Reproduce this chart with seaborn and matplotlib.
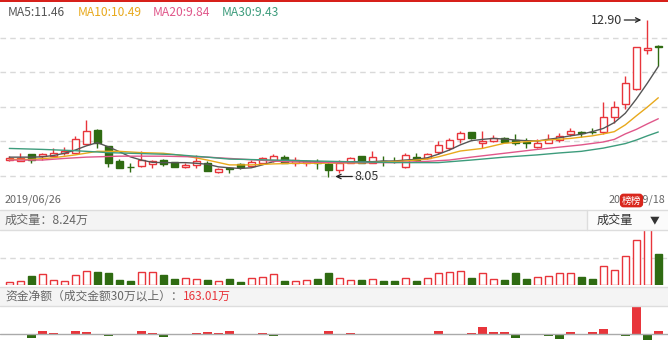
import matplotlib
matplotlib.use('Agg')
import matplotlib.pyplot as plt
import numpy as np
import pandas as pd
import seaborn as sns
from matplotlib.patches import Rectangle

# daily prices, 2019/06/26 .. 2019/09/18
open_ = [8.56, 8.54, 8.75, 8.69, 8.69, 8.79, 8.79, 9.05, 9.49, 8.99,
         8.53, 8.36, 8.38, 8.44, 8.56, 8.49, 8.34, 8.40, 8.46, 8.20,
         8.30, 8.43, 8.38, 8.46, 8.56, 8.65, 8.46, 8.46, 8.51, 8.43,
         8.25, 8.46, 8.69, 8.48, 8.54, 8.54, 8.35, 8.65, 8.61, 8.80,
         8.92, 9.20, 9.42, 9.08, 9.16, 9.23, 9.18, 9.12, 8.97, 9.10,
         9.18, 9.36, 9.43, 9.44, 9.42, 9.88, 10.29, 10.76, 11.97, 12.09]
close = [8.63, 8.63, 8.56, 8.74, 8.79, 8.84, 9.20, 9.45, 9.08, 8.46,
         8.32, 8.34, 8.56, 8.54, 8.43, 8.35, 8.41, 8.54, 8.23, 8.27,
         8.27, 8.35, 8.50, 8.61, 8.69, 8.48, 8.56, 8.53, 8.48, 8.25,
         8.48, 8.61, 8.48, 8.65, 8.52, 8.52, 8.71, 8.56, 8.74, 9.03,
         9.18, 9.41, 9.25, 9.15, 9.23, 9.13, 9.10, 9.10, 9.08, 9.21,
         9.31, 9.46, 9.41, 9.42, 9.88, 10.19, 10.96, 12.05, 12.02, 12.05]
high = [8.67, 8.77, 8.76, 8.77, 8.94, 8.96, 9.31, 9.80, 9.52, 8.99,
        8.60, 8.48, 8.84, 8.56, 8.60, 8.50, 8.46, 8.72, 8.54, 8.32,
        8.35, 8.46, 8.56, 8.66, 8.74, 8.72, 8.65, 8.55, 8.58, 8.50,
        8.56, 8.65, 8.69, 8.84, 8.69, 8.66, 8.79, 8.79, 8.79, 9.15,
        9.23, 9.46, 9.42, 9.46, 9.34, 9.27, 9.37, 9.23, 9.20, 9.36,
        9.39, 9.56, 9.47, 9.54, 10.37, 10.40, 11.16, 12.05, 12.90, 12.11]
low = [8.53, 8.53, 8.48, 8.56, 8.68, 8.72, 8.78, 9.05, 8.92, 8.35,
       8.32, 8.18, 8.35, 8.32, 8.38, 8.34, 8.30, 8.32, 8.22, 8.17,
       8.17, 8.27, 8.35, 8.43, 8.51, 8.46, 8.38, 8.38, 8.28, 8.05,
       8.15, 8.46, 8.46, 8.46, 8.38, 8.48, 8.30, 8.51, 8.58, 8.75,
       8.87, 9.10, 9.20, 8.92, 9.13, 9.12, 9.03, 8.94, 8.92, 9.08,
       9.13, 9.31, 9.27, 9.36, 9.36, 9.72, 10.13, 10.73, 11.84, 11.47]

# volume (万)
volume = [0.72, 0.98, 2.39, 2.92, 1.33, 0.98, 2.58, 3.64, 3.46, 3.19,
          1.33, 1.06, 3.46, 3.46, 2.66, 1.60, 1.78, 1.60, 1.33, 1.06,
          1.60, 0.80, 1.78, 2.05, 2.85, 1.06, 0.98, 1.25, 1.60, 3.19,
          1.78, 1.25, 1.33, 1.52, 1.06, 1.06, 1.78, 1.06, 1.78, 3.11,
          3.38, 3.64, 1.86, 3.11, 1.52, 1.33, 3.19, 1.60, 2.05, 2.31,
          3.11, 3.11, 2.13, 1.60, 4.97, 3.99, 7.63, 11.89, 18.60, 8.24]

# net capital flow (万)
flow = [0, 0, -280, 150, 30, -85, 150, 85, -30, -150,
        -30, -30, 150, 20, -215, -85, -30, 20, 85, 20,
        150, 0, -85, 20, -150, 0, -85, -30, -85, 150,
        -130, 20, -130, 0, -30, -30, -65, -30, -130, 163,
        -85, -85, 20, 440, 90, 90, -280, -65, -30, -190,
        -350, 90, -30, 90, 300, -90, -163, 1820, -455, 163.01]

# moving averages read at bar positions
ma5_x = list(range(60))
ma5 = [8.65, 8.65, 8.65, 8.66, 8.70, 8.77, 8.87, 9.00, 9.10, 8.97,
       8.82, 8.66, 8.56, 8.49, 8.48, 8.48, 8.48, 8.46, 8.43, 8.35,
       8.32, 8.30, 8.32, 8.41, 8.51, 8.56, 8.54, 8.51, 8.51, 8.48,
       8.48, 8.51, 8.51, 8.51, 8.53, 8.53, 8.56, 8.58, 8.63, 8.74,
       8.87, 9.03, 9.16, 9.20, 9.23, 9.21, 9.18, 9.16, 9.15, 9.20,
       9.25, 9.31, 9.36, 9.44, 9.54, 9.72, 10.01, 10.45, 10.94, 11.46]
ma10_x = [0, 2, 4, 6, 8, 10, 12, 14, 16, 18, 20, 22, 24, 26, 28, 30, 32, 34,
          36, 38, 39, 41, 43, 45, 47, 49, 51, 53, 54, 55, 56, 57, 58, 59]
ma10 = [8.58, 8.58, 8.63, 8.72, 8.83, 8.83, 8.79, 8.77, 8.69, 8.56, 8.41,
        8.41, 8.44, 8.46, 8.46, 8.47, 8.47, 8.50, 8.53, 8.59, 8.66, 8.84,
        8.92, 9.08, 9.13, 9.18, 9.23, 9.31, 9.37, 9.44, 9.65, 9.93, 10.20, 10.49]
ma20_x = [0, 3, 5, 7, 10, 14, 18, 20, 25, 30, 35, 38, 40, 42, 45, 48, 50,
          52, 54, 55, 56, 57, 58, 59]
ma20 = [8.56, 8.56, 8.61, 8.65, 8.68, 8.68, 8.65, 8.61, 8.51, 8.48, 8.48,
        8.52, 8.56, 8.65, 8.77, 8.89, 8.96, 9.03, 9.12, 9.20, 9.37, 9.51,
        9.68, 9.84]
ma30_x = [0, 3, 6, 9, 12, 15, 18, 20, 24, 28, 32, 36, 39, 42, 45, 48, 50,
          52, 54, 55, 56, 57, 58, 59]
ma30 = [8.92, 8.89, 8.85, 8.79, 8.76, 8.73, 8.65, 8.59, 8.56, 8.53, 8.50,
        8.48, 8.48, 8.56, 8.65, 8.72, 8.78, 8.83, 8.93, 9.00, 9.07, 9.18,
        9.31, 9.43]

dates = ['2019/06/26', '2019/09/18']

RED = '#e8353b'
GREEN = '#2f6b12'
GRID = '#d9d9d9'
TXT = '#666666'
MA_COLORS = ['#555555', '#e8a91c', '#e0578a', '#3d9c7c']

W, H = 668, 361
sns.set_style('white')
plt.rcParams['font.family'] = ['Noto Sans CJK SC', 'DejaVu Sans']

fig = plt.figure(figsize=(W / 100, H / 100), dpi=100)


def rows(top, bottom):
    return [0, 1 - bottom / H, 1, (bottom - top) / H]


def fy(y):
    return 1 - y / H


ax = fig.add_axes(rows(3, 210))
axv = fig.add_axes(rows(230, 285))
axf = fig.add_axes(rows(306, 361))

df = pd.DataFrame(dict(o=open_, h=high, l=low, c=close, vol=volume, flow=flow))
df['x'] = np.arange(len(df))
up = df.c >= df.o
xlim = (-9.3 / 11, (W - 9.3) / 11)

# candles
ax.vlines(df.x, df.l, df.h, colors=np.where(up, RED, GREEN), lw=1, zorder=2)
ax.bar(df.x[up], (df.c - df.o)[up], bottom=df.o[up], width=0.64,
       facecolor='white', edgecolor=RED, lw=1, zorder=3)
ax.bar(df.x[~up], (df.o - df.c)[~up], bottom=df.c[~up], width=0.64,
       color=GREEN, edgecolor=GREEN, lw=1, zorder=3)

for xs, ys, c in zip([ma5_x, ma10_x, ma20_x, ma30_x], [ma5, ma10, ma20, ma30], MA_COLORS):
    sns.lineplot(x=xs, y=ys, color=c, lw=1, ax=ax, zorder=4)

ylo, yhi = 7.012, 13.427
ax.set_ylim(ylo, yhi)
ax.set_xlim(*xlim)
ax.set_yticks(np.linspace(ylo, yhi, 7)[1:-1])
ax.grid(axis='y', ls=(0, (4, 3)), color=GRID, lw=1)

i_hi = int(np.argmax(high))
i_lo = int(np.argmin(low))
arrow = dict(arrowstyle='->', color='#222222', lw=0.9, shrinkA=0, shrinkB=0, mutation_scale=8)
ax.annotate('', xy=(i_hi - 6 / 11, high[i_hi]), xytext=(-17, 0),
            textcoords='offset pixels', arrowprops=arrow)
ax.annotate(f'{high[i_hi]:.2f}', xy=(i_hi - 25 / 11, high[i_hi]), ha='right',
            va='center', fontsize=9, color='#333333', annotation_clip=False)
ax.annotate('', xy=(i_lo + 7 / 11, low[i_lo]), xytext=(17, 0),
            textcoords='offset pixels', arrowprops=arrow)
ax.annotate(f'{low[i_lo]:.2f}', xy=(i_lo + 26 / 11, low[i_lo]), ha='left',
            va='center', fontsize=9, color='#333333', annotation_clip=False)

# volume
axv.bar(df.x[up], df.vol[up], width=0.66, facecolor='white', edgecolor=RED, lw=1)
axv.bar(df.x[~up], df.vol[~up], width=0.66, color=GREEN, edgecolor=GREEN, lw=1)
vtop = 14.63
axv.set_ylim(0, vtop)
axv.set_xlim(*xlim)
axv.set_yticks([vtop / 2])
axv.grid(axis='y', ls=(0, (4, 3)), color=GRID, lw=1)

# capital flow
fl = np.array(flow)
axf.bar(df.x, fl, width=0.8, color=np.where(fl >= 0, RED, GREEN), lw=0)
axf.axhline(0, color='#aaaaaa', lw=1)
axf.set_ylim(-1820, 1820)
axf.set_xlim(*xlim)

for a in (ax, axv, axf):
    a.set_xticks([])
    if a is axf:
        a.set_yticks([])
    a.tick_params(left=False, labelleft=False, bottom=False, labelbottom=False)
    sns.despine(ax=a, left=True, bottom=True)

# chrome
fig.add_artist(Rectangle((0, fy(2)), 1, 2 / H, transform=fig.transFigure, color='#d7201a', lw=0))
fig.add_artist(Rectangle((0, fy(230)), 1, 20 / H, transform=fig.transFigure,
                         fc='#f4f4f4', ec='none'))
fig.add_artist(Rectangle((587 / W, fy(230)), 81 / W, 20 / H, transform=fig.transFigure,
                         fc='#fbfbfb', ec='none'))
fig.add_artist(Rectangle((0, fy(306)), 1, 19 / H, transform=fig.transFigure,
                         fc='#f4f4f4', ec='none'))
for y in (210, 230, 287, 306):
    fig.add_artist(plt.Line2D([0, 1], [fy(y), fy(y)], color='#dddddd', lw=1))
fig.add_artist(plt.Line2D([587 / W, 587 / W], [fy(230), fy(210)], color='#dddddd', lw=1))

# legend
ma_last = [ma5[-1], ma10[-1], ma20[-1], ma30[-1]]
for name, v, c, x in zip(['MA5', 'MA10', 'MA20', 'MA30'], ma_last, MA_COLORS, [8, 78, 153, 222]):
    fig.text(x / W, fy(12.5), f'{name}:{v:.2f}', color=c, fontsize=8.7, va='center')

fig.text(5 / W, fy(200), dates[0], color=TXT, fontsize=7.8, va='center')
fig.text(665 / W, fy(200), dates[1], color=TXT, fontsize=7.8, va='center', ha='right')
fig.text(631.5 / W, fy(200.5), '榜榜', color='white', fontsize=7, va='center', ha='center',
         bbox=dict(boxstyle='round,pad=0.12,rounding_size=0.3', fc='#d9261c', ec='#d9261c'))

fig.text(5 / W, fy(220), f'成交量：{volume[-1]:.2f}万', color=TXT, fontsize=8.7, va='center')
fig.text(597 / W, fy(220), '成交量', color='#333333', fontsize=8.7, va='center')
fig.text(655 / W, fy(220), '▼', color='#333333', fontsize=7, va='center', ha='center')

t1 = fig.text(5 / W, fy(296.5), '资金净额（成交金额30万以上）：', color=TXT, fontsize=8.5, va='center')
fig.canvas.draw()
x1 = t1.get_window_extent().x1
fig.text(x1 / fig.bbox.width, fy(296.5), f'{flow[-1]:.2f}万', color=RED, fontsize=8.5, va='center')

fig.savefig('out.png', dpi=100)
